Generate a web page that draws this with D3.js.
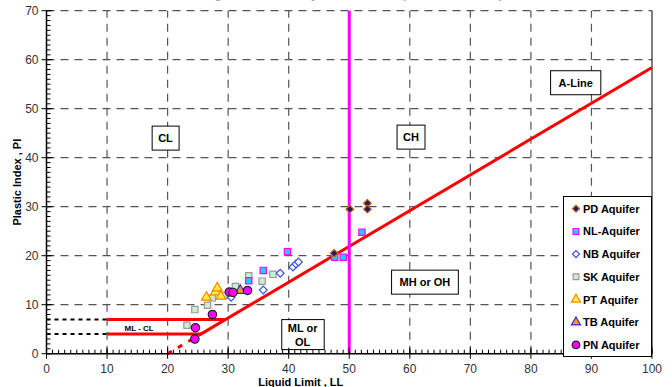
<!DOCTYPE html>
<html><head><meta charset="utf-8">
<script src="https://cdn.jsdelivr.net/npm/d3@7"></script>
<style>body{margin:0;background:#fff}svg{display:block;font-family:"Liberation Sans",Arial,sans-serif}</style>
</head><body><svg id="c" width="672" height="387"></svg>
<script>
// ---- data ----
const xTicks = [0,10,20,30,40,50,60,70,80,90,100];
const yTicks = [0,10,20,30,40,50,60,70];
const seriesNames = ["PD Aquifer","NL-Aquifer","NB Aquifer","SK Aquifer","PT Aquifer","TB Aquifer","PN Aquifer"];
const PD = [[47.5,20.5],[50.1,29.5],[53.0,30.7],[53.0,29.5]];
const NL = [[33.4,14.9],[35.8,17.0],[39.8,20.8],[47.6,19.7],[49.0,19.7],[52.1,24.8]];
const NB = [[30.5,11.5],[35.8,13.0],[38.6,16.4],[40.7,17.7],[41.2,18.3],[41.6,18.7]];
const SK = [[23.2,5.8],[24.5,9.0],[26.6,9.9],[27.4,11.4],[29.3,11.9],[31.2,13.7],[33.4,15.9],[35.6,14.8],[37.4,16.2]];
const PT = [[26.4,11.5],[27.9,12.6],[28.2,13.4],[28.8,11.7]];
const TB = [[32.0,12.9]];
const PN = [[24.5,3.0],[24.6,5.3],[27.4,8.0],[30.2,12.6],[30.8,12.5],[33.2,12.9]];
const annotations = [
  {t:["CL"], ll:19.65, pi:44.0},
  {t:["CH"], ll:60.2, pi:44.2},
  {t:["A-Line"], ll:87.4, pi:55.3},
  {t:["MH or OH"], ll:62.5, pi:14.6},
  {t:["ML or","OL"], ll:42.3, pi:3.9}
];
const title = "Casagrande Plasticity Chart of Samples from All Aquifers";

// ---- setup ----
const svg = d3.select("#c");
const x = d3.scaleLinear([0,100],[46.5,652]);
const y = d3.scaleLinear([0,70],[353.7,10.7]);

// title (cut off at top as in reference)
svg.append("text").attr("x",360).attr("y",-2).attr("text-anchor","middle")
  .attr("font-size",13).attr("font-weight","bold").attr("fill","#aaa").text(title);

// gridlines
const g = svg.append("g");
g.selectAll(".vg").data(xTicks.filter(d=>d>0&&d<100)).join("line")
  .attr("x1",d=>x(d)).attr("x2",d=>x(d)).attr("y1",y(0)).attr("y2",y(70))
  .attr("stroke","#555").attr("stroke-dasharray","8,6").attr("stroke-width",1.2);
g.selectAll(".hg").data(yTicks.filter(d=>d>0)).join("line")
  .attr("x1",x(0)).attr("x2",x(100)).attr("y1",d=>y(d)).attr("y2",d=>y(d))
  .attr("stroke","#555").attr("stroke-dasharray","8,6").attr("stroke-width",1.2);
g.append("line").attr("x1",x(100)).attr("x2",x(100)).attr("y1",y(0)).attr("y2",y(70))
  .attr("stroke","#000").attr("stroke-width",1);

// annotation boxes
annotations.forEach(a=>{
  const ag = svg.append("g");
  const txt = ag.append("text").attr("font-size",11).attr("font-weight","bold")
    .attr("text-anchor","middle");
  const n=a.t.length;
  a.t.forEach((s,i)=>txt.append("tspan").attr("x",x(a.ll))
    .attr("y",y(a.pi)+4+(i-(n-1)/2)*14).text(s));
  const bb = txt.node().getBBox();
  const padX = n>1?6:(a.t[0].length<3?6:8), padY=n>1?2:6;
  ag.insert("rect","text").attr("x",bb.x-padX).attr("y",bb.y-padY)
    .attr("width",bb.width+2*padX).attr("height",bb.height+2*padY)
    .attr("fill","#fff").attr("stroke","#000").attr("stroke-width",1);
});
svg.append("text").attr("x",x(15.3)).attr("y",y(5.2)+3).attr("text-anchor","middle")
  .attr("font-size",8).attr("font-weight","bold").text("ML - CL");

// A-line & U lines
const aLine = ll => 0.73*(ll-20);
const red = "#ff0000";
svg.append("line").attr("x1",x(20)).attr("y1",y(aLine(20))).attr("x2",x(25.48)).attr("y2",y(aLine(25.48)))
  .attr("stroke",red).attr("stroke-width",3).attr("stroke-dasharray","5,7");
svg.append("line").attr("x1",x(25.48)).attr("y1",y(4)).attr("x2",x(100)).attr("y2",y(aLine(100)))
  .attr("stroke",red).attr("stroke-width",3);
[4,7].forEach(v=>{
  svg.append("line").attr("x1",x(10)).attr("x2",x(20+v/0.73)).attr("y1",y(v)).attr("y2",y(v))
    .attr("stroke",red).attr("stroke-width",3);
  svg.append("line").attr("x1",x(0)).attr("x2",x(10)).attr("y1",y(v)).attr("y2",y(v))
    .attr("stroke","#000").attr("stroke-width",2).attr("stroke-dasharray","4,4");
});
svg.append("line").attr("x1",x(50)).attr("x2",x(50)).attr("y1",y(0)).attr("y2",y(70))
  .attr("stroke","#ff00ff").attr("stroke-width",3);

// markers
const styles = [
  {data:PD, type:d3.symbolSquare, rot:45, size:30, fill:"#1a1a6e", stroke:"#cc6a1a"},
  {data:NL, type:d3.symbolSquare, rot:0, size:40, fill:"#22ccff", stroke:"#ff00ff"},
  {data:NB, type:d3.symbolSquare, rot:45, size:30, fill:"#fff", stroke:"#3355ee"},
  {data:SK, type:d3.symbolSquare, rot:0, size:40, fill:"#cceecc", stroke:"#999"},
  {data:PT, type:d3.symbolTriangle, rot:0, size:42, fill:"#ffee44", stroke:"#ff8800"},
  {data:TB, type:d3.symbolTriangle, rot:0, size:42, fill:"#ff9900", stroke:"#2233dd"},
  {data:PN, type:d3.symbolCircle, rot:0, size:55, fill:"#ff00ff", stroke:"#222"}
];
const ptsOrder = [3,2,1,4,5,6,0];
ptsOrder.forEach(i=>{
  const s=styles[i];
  svg.append("g").selectAll("path").data(s.data).join("path")
    .attr("transform",d=>`translate(${x(d[0])},${y(d[1])}) rotate(${s.rot})`)
    .attr("d",d3.symbol(s.type,s.size)).attr("fill",s.fill).attr("stroke",s.stroke).attr("stroke-width",1.2);
});

// axes
const xAxis = svg.append("g").attr("transform",`translate(0,${y(0)})`);
xAxis.append("line").attr("x1",x(0)).attr("x2",x(100)).attr("stroke","#000").attr("stroke-width",1.5);
xAxis.selectAll(".mn").data(d3.range(0,101)).join("line")
  .attr("x1",d=>x(d)).attr("x2",d=>x(d)).attr("y1",0).attr("y2",-4).attr("stroke","#000");
xAxis.selectAll(".mj").data(xTicks).join("line")
  .attr("x1",d=>x(d)).attr("x2",d=>x(d)).attr("y1",-6).attr("y2",5).attr("stroke","#000");
xAxis.selectAll("text").data(xTicks).join("text")
  .attr("x",d=>x(d)).attr("y",19).attr("text-anchor","middle").attr("font-size",12).attr("fill","#333").text(d=>d);

const yAxis = svg.append("g").attr("transform",`translate(${x(0)},0)`);
yAxis.append("line").attr("y1",y(0)).attr("y2",y(70)).attr("stroke","#000").attr("stroke-width",1.5);
yAxis.selectAll(".mn").data(d3.range(0,71)).join("line")
  .attr("y1",d=>y(d)).attr("y2",d=>y(d)).attr("x1",0).attr("x2",4).attr("stroke","#000");
yAxis.selectAll(".mj").data(yTicks).join("line")
  .attr("y1",d=>y(d)).attr("y2",d=>y(d)).attr("x1",-5).attr("x2",6).attr("stroke","#000");
yAxis.selectAll("text").data(yTicks).join("text")
  .attr("x",-8).attr("y",d=>y(d)+4).attr("text-anchor","end").attr("font-size",12).attr("fill","#333").text(d=>d);

svg.append("text").attr("x",x(42)).attr("y",386).attr("text-anchor","middle")
  .attr("font-size",11).attr("font-weight","bold").text("Liquid Limit , LL");
svg.append("text").attr("transform",`translate(21,${y(35)}) rotate(-90)`).attr("text-anchor","middle")
  .attr("font-size",11).attr("font-weight","bold").text("Plastic Index , PI");

// legend
const lg = svg.append("g");
lg.append("rect").attr("x",563.5).attr("y",196.5).attr("width",88).attr("height",160)
  .attr("fill","#fff").attr("stroke","#000").attr("stroke-width",1);
styles.forEach((s,i)=>{
  const yy = 208.7 + i*22.7;
  lg.append("path").attr("transform",`translate(576,${yy}) rotate(${s.rot})`)
    .attr("d",d3.symbol(s.type,s.size*0.85)).attr("fill",s.fill).attr("stroke",s.stroke).attr("stroke-width",1.2);
  lg.append("text").attr("x",583).attr("y",yy+4).attr("font-size",11).attr("font-weight","bold").text(seriesNames[i]);
});
</script></body></html>
